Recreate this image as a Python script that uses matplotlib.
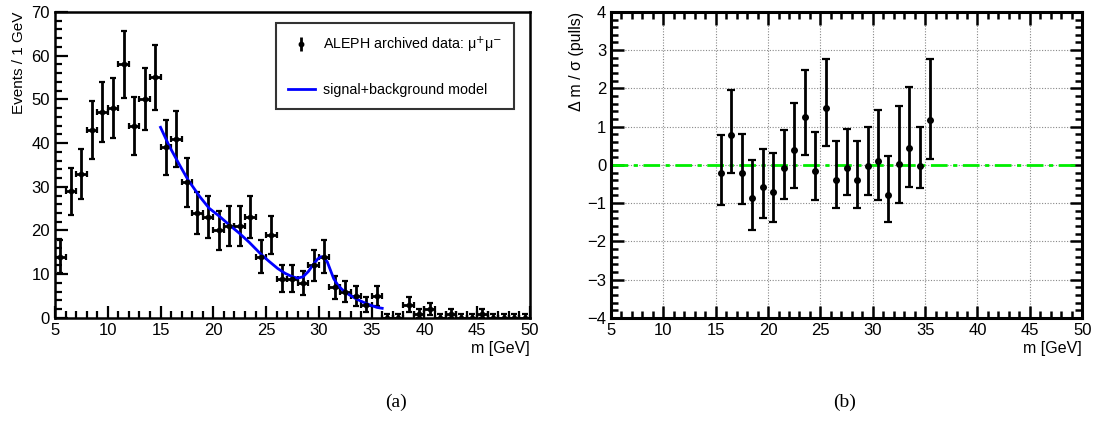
import numpy as np
import matplotlib.pyplot as plt
from matplotlib.ticker import MultipleLocator

plt.rcParams['font.family'] = ['Liberation Sans', 'DejaVu Sans']

# histogram of mu+mu- invariant mass, 1 GeV bins from 5 to 50
bin_centers = np.arange(5.5, 50.0, 1.0)
counts = [14, 29, 33, 43, 47, 48, 58, 44, 50, 55,
          39, 41, 31, 24, 23, 20, 21, 21, 23, 14,
          19, 9, 9, 8, 12, 14, 7, 6, 5, 3,
          5, 0, 0, 3, 1, 2, 0, 1, 0, 0,
          1, 0, 0, 0, 0]

# fitted signal+background curve
model_m = [15.0, 15.85, 16.8, 17.6, 18.7, 19.6, 20.6, 21.5, 22.45, 23.4,
           24.5, 25.3, 26.1, 26.8, 27.5, 28.0, 28.5, 29.0, 29.5, 29.9,
           30.2, 30.45, 30.8, 31.1, 31.4, 31.8, 32.2, 32.8, 33.5, 34.2,
           34.9, 35.5, 36.0]
model_y = [43.6, 39.2, 35.0, 31.6, 27.8, 25.1, 23.2, 21.3, 19.4, 17.3,
           14.6, 12.9, 11.3, 10.2, 9.4, 9.1, 9.4, 10.6, 12.3, 13.5,
           14.0, 13.9, 12.8, 10.9, 9.0, 7.5, 6.5, 5.4, 4.4, 3.6,
           2.9, 2.4, 2.2]

# pulls
pull_m = np.arange(15.5, 36.0, 1.0)
pull = [-0.21, 0.79, -0.20, -0.87, -0.58, -0.70, -0.09, 0.39, 1.26, -0.16,
        1.50, -0.39, -0.09, -0.40, -0.04, 0.10, -0.79, 0.02, 0.44, -0.04,
        1.17]
pull_hi = [0.79, 1.97, 0.80, 0.14, 0.42, 0.30, 0.91, 1.63, 2.49, 0.85,
           2.76, 0.62, 0.94, 0.62, 0.98, 1.43, 0.24, 1.55, 2.03, 0.98,
           2.77]
pull_lo = [-1.05, -0.21, -1.03, -1.69, -1.39, -1.50, -0.90, -0.60, 0.27, -0.92,
           0.50, -1.12, -0.80, -1.12, -0.80, -0.92, -1.48, -1.00, -0.58, -0.61,
           0.16]

counts = np.array(counts, dtype=float)
err = np.where(counts > 0, np.sqrt(counts), 0.9)

fig = plt.figure(figsize=(10.95, 4.25), dpi=100)
ax1 = fig.add_axes([0.0502, 0.252, 0.4338, 0.72])
ax2 = fig.add_axes([0.558, 0.252, 0.4303, 0.72])

# ---- left: data + model
ax1.errorbar(bin_centers, counts, yerr=err, xerr=0.5, fmt='o', color='black',
             ms=3.2, elinewidth=2, capsize=2.5, capthick=1.6)
model_h, = ax1.plot(model_m, model_y, color='#0000ff', lw=2)
# legend proxy: marker with vertical bar only
data_h = ax1.errorbar([np.nan], [np.nan], yerr=[1], fmt='o', color='black',
                      ms=3.2, elinewidth=2, capsize=0)

ax1.set_xlim(5, 50)
ax1.set_ylim(0, 70)
ax1.xaxis.set_major_locator(MultipleLocator(5))
ax1.xaxis.set_minor_locator(MultipleLocator(1))
ax1.yaxis.set_major_locator(MultipleLocator(10))
ax1.yaxis.set_minor_locator(MultipleLocator(2))
ax1.tick_params(which='both', direction='in', top=False, right=False, labelsize=12, width=1.6)
ax1.tick_params(which='major', length=9)
ax1.tick_params(which='minor', length=5)
ax1.set_xlabel('m [GeV]', loc='right', fontsize=11.5, labelpad=2)
ax1.set_ylabel('Events / 1 GeV', loc='top', fontsize=11, labelpad=4)
for s in ax1.spines.values():
    s.set_linewidth(1.8)

leg = ax1.legend([data_h, model_h],
                 ['ALEPH archived data: μ$^{+}$μ$^{-}$', 'signal+background model'],
                 loc='upper right', bbox_to_anchor=(0.966, 0.964), fontsize=10.3,
                 frameon=True, fancybox=False, borderpad=0.8, labelspacing=2.0,
                 handlelength=1.9, handletextpad=0.6, borderaxespad=0)
leg.get_frame().set_edgecolor('black')
leg.get_frame().set_linewidth(1.5)

# ---- right: pulls
ax2.grid(True, which='major', color='#888888', linestyle=(0, (1, 1.5)), lw=0.8)
ax2.axhline(0, color='#00ee00', lw=2, linestyle=(0, (6, 2, 1.5, 2)), zorder=2)
ax2.errorbar(pull_m, pull,
             yerr=[np.array(pull) - np.array(pull_lo), np.array(pull_hi) - np.array(pull)],
             fmt='o', color='black', ms=4, elinewidth=2, capsize=3, capthick=1.6, zorder=3)
ax2.set_xlim(5, 50)
ax2.set_ylim(-4, 4)
ax2.xaxis.set_major_locator(MultipleLocator(5))
ax2.xaxis.set_minor_locator(MultipleLocator(1))
ax2.yaxis.set_major_locator(MultipleLocator(1))
ax2.yaxis.set_minor_locator(MultipleLocator(0.2))
ax2.tick_params(which='both', direction='in', top=True, right=True, labelsize=12, width=1.8)
ax2.tick_params(which='major', length=9)
ax2.tick_params(which='minor', length=5)
ax2.set_xlabel('m [GeV]', loc='right', fontsize=11.5, labelpad=2)
ax2.set_ylabel('Δ m / σ (pulls)', loc='top', fontsize=11.5, labelpad=2)
for s in ax2.spines.values():
    s.set_linewidth(2.2)

fig.text(0.3616, 0.054, '(a)', family=['Liberation Serif', 'DejaVu Serif'], fontsize=14,
         ha='center', va='center')
fig.text(0.7717, 0.054, '(b)', family=['Liberation Serif', 'DejaVu Serif'], fontsize=14,
         ha='center', va='center')

fig.savefig('out.png', dpi=100)
